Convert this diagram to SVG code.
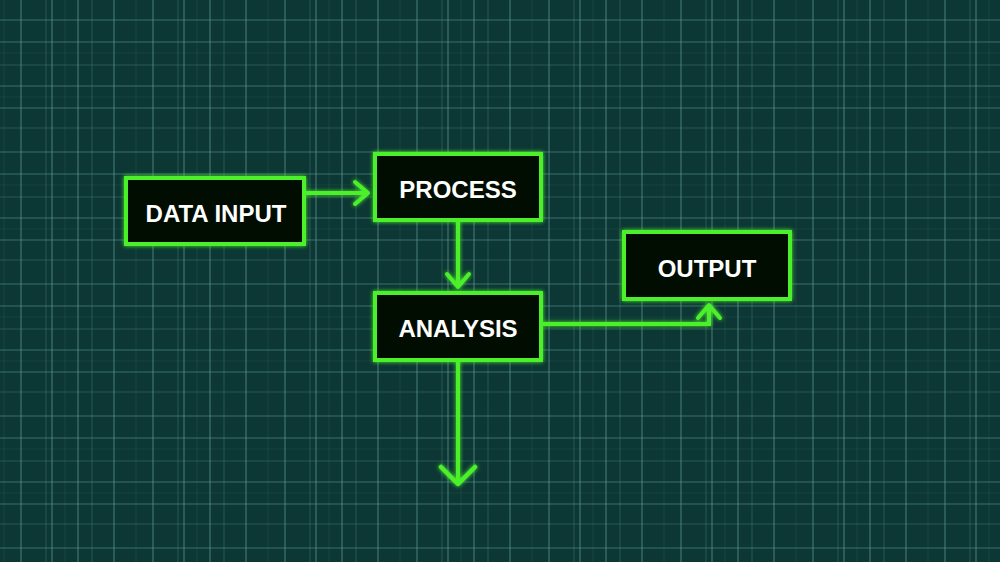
<svg xmlns="http://www.w3.org/2000/svg" width="1000" height="562" viewBox="0 0 1000 562">
  <defs>
    <pattern id="grid" width="132" height="132" patternUnits="userSpaceOnUse" x="-1" y="-2">
      <g stroke="#5f9d97" stroke-width="1" fill="none">
        <path d="M22 0V132M53 0V132M79 0V132M115 0V132" stroke-opacity="0.7"/>
        <path d="M47 0V132M93 0V132" stroke-opacity="0.3"/>
        <path d="M0 22H132M0 44H132M0 88H132M0 110H132" stroke-opacity="0.55"/>
        <path d="M0 67H132M0 130H132" stroke-opacity="0.3"/>
        <path d="M5 0V132M66 0V132" stroke-opacity="0.12"/>
        <path d="M0 55H132M0 99H132" stroke-opacity="0.1"/>
      </g>
    </pattern>
    <filter id="glow" x="-20%" y="-20%" width="140%" height="140%">
      <feGaussianBlur in="SourceGraphic" stdDeviation="2" result="b"/>
      <feMerge><feMergeNode in="b"/><feMergeNode in="SourceGraphic"/></feMerge>
    </filter>
    <marker id="chev" viewBox="0 0 20 28" refX="17" refY="14" markerWidth="20" markerHeight="28" markerUnits="userSpaceOnUse" orient="auto">
      <path d="M4 3L17 14L4 25" fill="none" stroke="#4cf02a" stroke-width="4" stroke-linecap="round" stroke-linejoin="round"/>
    </marker>
    <marker id="chevL" viewBox="0 0 24 40" refX="21" refY="20" markerWidth="24" markerHeight="40" markerUnits="userSpaceOnUse" orient="auto">
      <path d="M4 3L21 20L4 37" fill="none" stroke="#4cf02a" stroke-width="4.5" stroke-linecap="round" stroke-linejoin="round"/>
    </marker>
  </defs>
  <style>
    .box{fill:#050806;stroke:#4cf02a;stroke-width:4}
    .lbl{font-family:"Liberation Sans",Arial,sans-serif;font-weight:bold;font-size:24px;fill:#ffffff;text-anchor:middle}
    .edge{fill:none;stroke:#4cf02a;stroke-width:4;stroke-linejoin:miter}
  </style>
  <rect width="1000" height="562" fill="#0c3734"/>
  <rect width="1000" height="562" fill="url(#grid)"/>

  <g id="connectors" filter="url(#glow)">
    <path class="edge" d="M304 193H368" marker-end="url(#chev)"/>
    <path class="edge" d="M458 220V287" marker-end="url(#chev)"/>
    <path class="edge" d="M541 324H709V305" marker-end="url(#chev)"/>
    <path class="edge" d="M458 360V484" marker-end="url(#chevL)"/>
  </g>

  <g id="data-input">
    <rect class="box" x="126" y="178" width="178" height="66" filter="url(#glow)"/>
    <text class="lbl" x="216" y="222">DATA INPUT</text>
  </g>
  <g id="process">
    <rect class="box" x="375" y="154" width="166" height="66" filter="url(#glow)"/>
    <text class="lbl" x="458" y="198">PROCESS</text>
  </g>
  <g id="analysis">
    <rect class="box" x="375" y="293" width="166" height="67" filter="url(#glow)"/>
    <text class="lbl" x="458" y="337">ANALYSIS</text>
  </g>
  <g id="output">
    <rect class="box" x="624" y="232" width="166" height="67" filter="url(#glow)"/>
    <text class="lbl" x="707" y="277">OUTPUT</text>
  </g>
</svg>
